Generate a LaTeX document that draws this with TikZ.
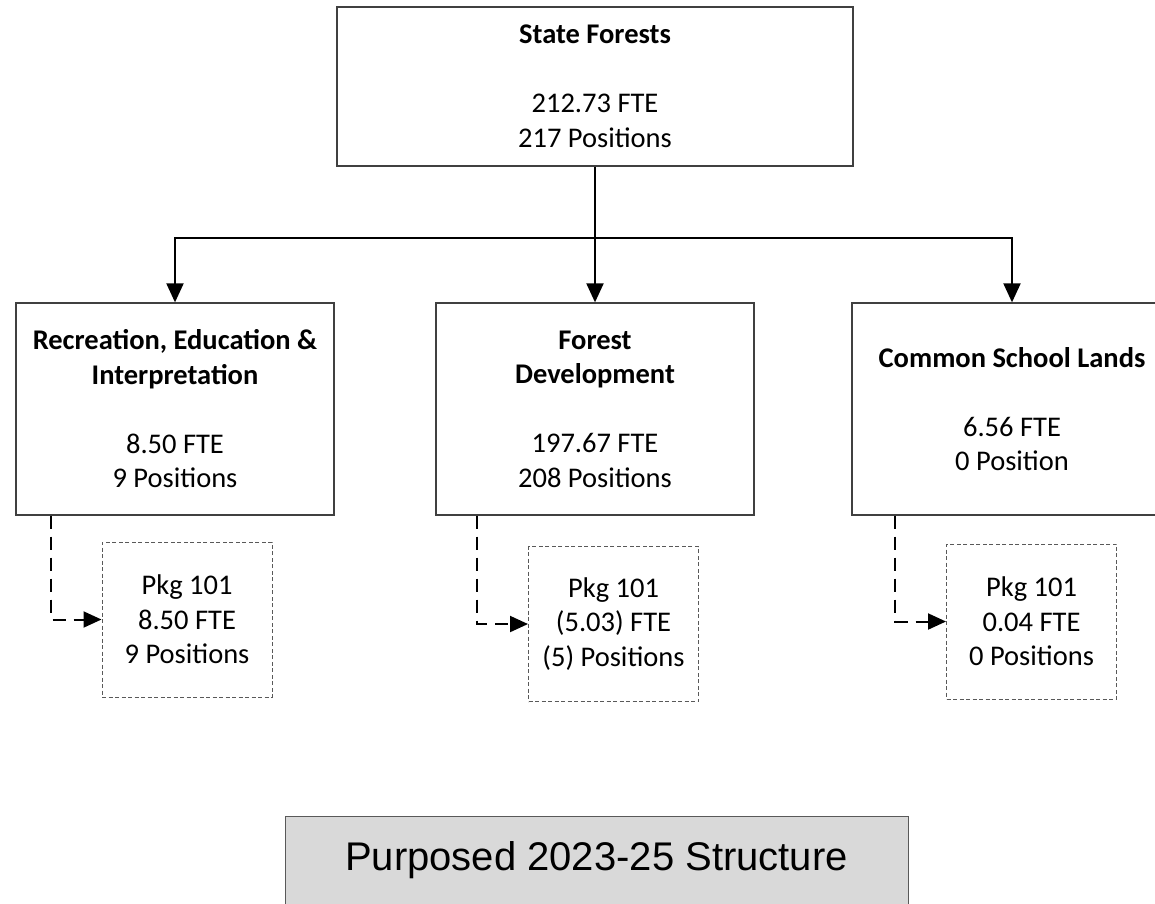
\documentclass[tikz,border=0pt]{standalone}
\usepackage{fontspec}
\setmainfont{Carlito}
\newfontfamily\titlefont{Liberation Sans}
\usetikzlibrary{arrows.meta,calc}
\begin{document}
\begin{tikzpicture}[x=1pt,y=-1pt,
  box/.style={draw=black!75, line width=1.3pt, minimum width=318pt, minimum height=212pt,
    inner sep=0pt, align=center, font=\fontsize{28.5}{34.5}\selectfont},
  pkgbox/.style={draw=black!65, line width=1pt, dash pattern=on 4pt off 2.5pt,
    minimum width=170pt, minimum height=155pt, inner sep=0pt, align=center,
    font=\fontsize{28.5}{34.5}\selectfont},
  titlebox/.style={draw=black!65, fill=black!15, line width=1pt, minimum width=623pt,
    minimum height=88pt, inner sep=0pt, font=\titlefont\fontsize{40}{48}\selectfont},
  link/.style={line width=2pt, -{Triangle[length=19pt,width=17pt]}},
  dlink/.style={line width=2pt, dash pattern=on 13pt off 8pt, -{Triangle[length=18pt,width=16pt]}}]
\clip (0,0) rectangle (1155,903);
\node[box, minimum width=516pt, minimum height=159pt] (top) at (595,86.5)
  {\textbf{State Forests}\\[34.5pt]212.73 FTE\\217 Positions};
\node[box] (rei) at (175,409)
  {\textbf{Recreation, Education \&}\\\textbf{Interpretation}\\[34.5pt]8.50 FTE\\9 Positions};
\node[box] (fd) at (595,409)
  {\textbf{Forest}\\\textbf{Development}\\[34.5pt]197.67 FTE\\208 Positions};
\node[box, minimum width=320pt] (csl) at (1012,409)
  {\textbf{Common School Lands}\\[34.5pt]6.56 FTE\\0 Position};
\node[pkgbox] (pkgL) at (187,619.5) {Pkg 101\\8.50 FTE\\9 Positions};
\node[pkgbox] (pkgM) at (613.5,624) {Pkg 101\\(5.03) FTE\\(5) Positions};
\node[pkgbox] (pkgR) at (1031.5,621.5) {Pkg 101\\0.04 FTE\\0 Positions};
\node[titlebox] (title) at (596.5,860) {Purposed 2023-25 Structure};
\coordinate (bus) at ($(top.south)+(0,71)$);
\draw[link] (top.south) -- (fd.north);
\draw[link] (bus) -| (rei.north);
\draw[link] (bus) -| (csl.north);
\draw[dlink] ($(rei.south west)+(36,0)$) |- (pkgL.west);
\draw[dlink] ($(fd.south west)+(42,0)$) |- (pkgM.west);
\draw[dlink] ($(csl.south west)+(44,0)$) |- (pkgR.west);
\end{tikzpicture}
\end{document}
